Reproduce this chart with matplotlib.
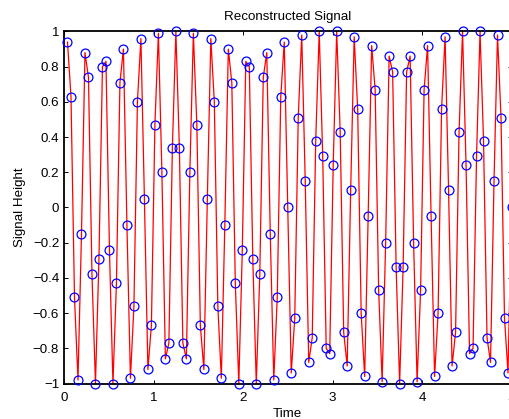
import numpy as np
import matplotlib
matplotlib.use("Agg")
import matplotlib.pyplot as plt

# ---- data ----
dt = 5 / 128                      # sampling interval (s)
n_samples = 128
signal = [0.94, 0.63, -0.51, -0.98, -0.15, 0.88, 0.74, -0.38, -1.00, -0.29,
          0.80, 0.83, -0.24, -1.00, -0.43, 0.71, 0.90, -0.10, -0.97, -0.56,
          0.60, 0.96, 0.05, -0.92, -0.67, 0.47, 0.99, 0.20, -0.86, -0.77,
          0.34, 1.00, 0.34, -0.77, -0.86, 0.20, 0.99, 0.47, -0.67, -0.92,
          0.05, 0.96, 0.60, -0.56, -0.97, -0.10, 0.90, 0.71, -0.43, -1.00,
          -0.24, 0.83, 0.80, -0.29, -1.00, -0.38, 0.74, 0.88, -0.15, -0.98,
          -0.51, 0.63, 0.94, 0.00, -0.94, -0.63, 0.51, 0.98, 0.15, -0.88,
          -0.74, 0.38, 1.00, 0.29, -0.80, -0.83, 0.24, 1.00, 0.43, -0.71,
          -0.90, 0.10, 0.97, 0.56, -0.60, -0.96, -0.05, 0.92, 0.67, -0.47,
          -0.99, -0.20, 0.86, 0.77, -0.34, -1.00, -0.34, 0.77, 0.86, -0.20,
          -0.99, -0.47, 0.67, 0.92, -0.05, -0.96, -0.60, 0.56, 0.97, 0.10,
          -0.90, -0.71, 0.43, 1.00, 0.24, -0.83, -0.80, 0.29, 1.00, 0.38,
          -0.74, -0.88, 0.15, 0.98, 0.51, -0.63, -0.94, 0.00]
time = np.arange(1, n_samples + 1) * dt

xticks = [0, 1, 2, 3, 4, 5]
xticklabels = ["0", "1", "2", "3", "4", "5"]
yticks = [-1, -0.8, -0.6, -0.4, -0.2, 0, 0.2, 0.4, 0.6, 0.8, 1]
yticklabels = ["\u22121", "\u22120.8", "\u22120.6", "\u22120.4", "\u22120.2", "0",
               "0.2", "0.4", "0.6", "0.8", "1"]

title = "Reconstructed Signal"
xlabel = "Time"
ylabel = "Signal Height"

# ---- plot ----
plt.rcParams['font.family'] = ['Liberation Sans', 'DejaVu Sans']
fs = 9.6

fig = plt.figure(figsize=(5.09, 4.19), dpi=100)
ax = fig.add_axes([64/509, 35.5/419, 447.5/509, 352/419])
ax.plot(time, signal, '-', color=(1, 0, 0), lw=0.9, zorder=2)
ax.plot(time, signal, 'o', mfc='none', mec=(0, 0, 1), ms=6.4, mew=0.9,
        zorder=3, clip_on=False)

ax.set_xlim(0, 5)
ax.set_ylim(-1, 1)
ax.set_xticks(xticks)
ax.set_xticklabels(xticklabels, fontsize=fs)
ax.set_yticks(yticks)
ax.set_yticklabels(yticklabels, fontsize=fs)
ax.tick_params(direction='in', length=3.2, width=0.7, top=True, right=True,
               colors='black')
ax.tick_params(axis='x', pad=6.3)
ax.tick_params(axis='y', pad=3.5)
for s in ax.spines.values():
    s.set_linewidth(1.3)
    s.set_color('black')

ax.set_title(title, fontsize=fs, pad=8.5)
ax.set_xlabel(xlabel, fontsize=fs, labelpad=2.5)
ax.set_ylabel(ylabel, fontsize=fs, labelpad=5)

fig.savefig("out.png", dpi=100)
